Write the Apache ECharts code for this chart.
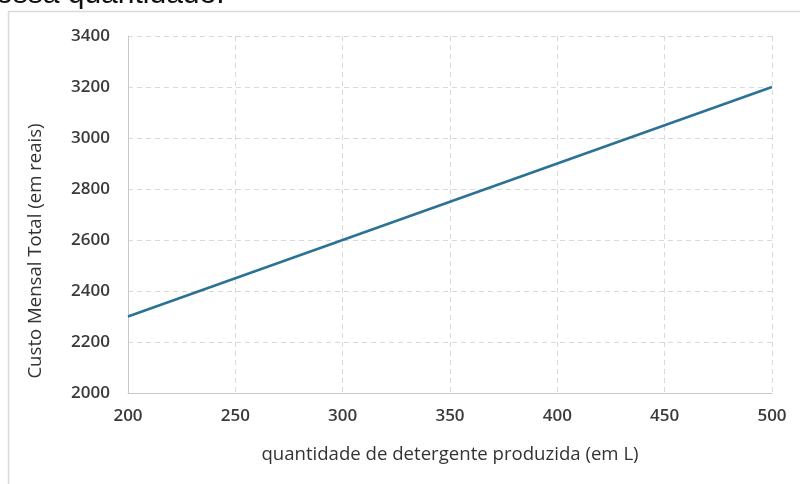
<!DOCTYPE html>
<html>
<head>
<meta charset="utf-8">
<script src="https://cdn.jsdelivr.net/npm/echarts@6/dist/echarts.min.js"></script>
<style>
  html, body { margin: 0; padding: 0; background: #ffffff; }
  #chart { width: 800px; height: 484px; }
</style>
</head>
<body>
<div id="chart"></div>
<script>
// Quantity of detergent produced (L) and total monthly cost (R$)
const quantidades = [200, 250, 300, 350, 400, 450, 500];
const custos = [2300, 2450, 2600, 2750, 2900, 3050, 3200];

const xTitulo = 'quantidade de detergente produzida (em L)';
const yTitulo = 'Custo Mensal Total (em reais)';
const textoAcima = 'essa quantidade.';

const labelFont = '"Open Sans", "Liberation Sans", Arial, sans-serif';

const chart = echarts.init(document.getElementById('chart'), null, { renderer: 'canvas' });

chart.setOption({
  animation: false,
  backgroundColor: '#ffffff',
  grid: { left: 128, right: 28, top: 36, bottom: 91, containLabel: false },
  xAxis: {
    type: 'value',
    min: 200,
    max: 500,
    interval: 50,
    name: xTitulo,
    nameLocation: 'middle',
    nameGap: 52,
    nameTextStyle: { color: '#333333', fontSize: 18.6, fontFamily: labelFont },
    axisLine: { show: true, lineStyle: { color: '#c8c8c8', width: 1 } },
    axisTick: { show: false },
    axisLabel: {
      color: '#3a3a3a', fontSize: 17, fontWeight: 600, fontFamily: labelFont, margin: 15,
      formatter: v => String(v)
    },
    splitLine: { show: true, lineStyle: { color: '#d9d9d9', type: [5, 4], width: 1 } }
  },
  yAxis: {
    type: 'value',
    min: 2000,
    max: 3400,
    interval: 200,
    axisLine: { show: true, lineStyle: { color: '#c8c8c8', width: 1 } },
    axisTick: { show: false },
    axisLabel: {
      color: '#3a3a3a', fontSize: 17, fontWeight: 600, fontFamily: labelFont, margin: 18,
      formatter: v => String(v)
    },
    splitLine: { show: true, lineStyle: { color: '#d9d9d9', type: [5, 4], width: 1 } }
  },
  series: [{
    type: 'line',
    data: quantidades.map((q, i) => [q, custos[i]]),
    showSymbol: false,
    lineStyle: { color: '#2c7196', width: 2.5 },
    z: 3
  }],
  graphic: [
    {
      type: 'rect',
      silent: true,
      z: -10,
      shape: { x: 8.5, y: 11.5, width: 900, height: 600 },
      style: { fill: 'none', stroke: '#d9d9d9', lineWidth: 1.5 }
    },
    {
      type: 'text',
      silent: true,
      left: -4,
      top: -20,
      style: { text: textoAcima, fill: '#111111', font: '30px "Liberation Sans", Arial, sans-serif' }
    },
    {
      type: 'text',
      silent: true,
      x: 36,
      y: 251,
      rotation: Math.PI / 2,
      style: {
        text: yTitulo,
        fill: '#333333',
        font: '18.6px ' + labelFont,
        align: 'center',
        verticalAlign: 'middle'
      }
    }
  ]
});
</script>
</body>
</html>
